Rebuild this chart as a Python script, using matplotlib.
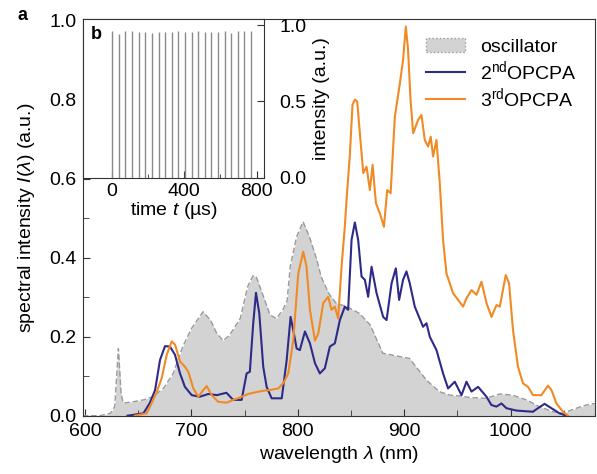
import numpy as np
import matplotlib
matplotlib.use("Agg")
import matplotlib.pyplot as plt
from matplotlib.patches import Patch
from matplotlib.lines import Line2D
from matplotlib.ticker import MultipleLocator, FormatStrFormatter

plt.rcParams['font.family'] = ['Liberation Sans', 'DejaVu Sans']
plt.rcParams['mathtext.fontset'] = 'custom'
plt.rcParams['mathtext.rm'] = 'Liberation Sans'
plt.rcParams['mathtext.it'] = 'Liberation Sans:italic'
plt.rcParams['font.size'] = 14

# oscillator spectrum
osc_wl = [598, 614, 624, 628, 631.5, 634, 636, 645, 655, 664, 674, 683, 692, 700, 711, 718, 724,
          730, 736, 746, 753, 758, 761, 768, 774, 780, 786, 790, 793, 799, 805, 811, 818, 822, 829,
          836, 846, 858, 868, 880, 905, 921, 933, 943, 952, 962, 977, 990, 1002, 1015, 1027, 1040,
          1049, 1062, 1071, 1079]
osc_y = [0, 0, 0.006, 0.023, 0.17, 0.057, 0.032, 0.035, 0.04, 0.048, 0.07, 0.107, 0.175, 0.22,
         0.263, 0.242, 0.208, 0.19, 0.204, 0.246, 0.327, 0.354, 0.352, 0.30, 0.255, 0.246, 0.268,
         0.29, 0.378, 0.453, 0.491, 0.453, 0.394, 0.352, 0.31, 0.285, 0.276, 0.259, 0.23, 0.158,
         0.145, 0.09, 0.061, 0.052, 0.05, 0.046, 0.044, 0.055, 0.052, 0.04, 0.023, 0.01, 0.006,
         0.019, 0.027, 0.031]

# 2nd OPCPA
b_wl = [640, 655, 661, 666, 670.6, 675.3, 680, 684.7, 689.4, 694, 700.4, 708, 716, 724, 733,
        739.4, 747.3, 752, 755, 758.2, 760.8, 763.9, 767.6, 770.8, 775.5, 780, 785, 789.6, 793.3,
        795.8, 799, 802, 806.8, 811.5, 816.2, 820.8, 825.5, 830.2, 834.9, 839.6, 844.3, 847.4,
        850.6, 853.7, 856.8, 860, 863.1, 866.2, 869.4, 874.1, 880.3, 883.5, 888.2, 892.2, 895.3,
        899, 902.2, 905.3, 910, 917.8, 921, 924.1, 930.4, 936.6, 941.3, 947.6, 953.9, 958.6,
        963.3, 969.5, 977.4, 982, 986.7, 991.5, 996.1, 1005.5, 1021, 1025.8, 1032, 1038.4, 1046,
        1052.5]
b_y = [0, 0.006, 0.032, 0.065, 0.141, 0.176, 0.175, 0.154, 0.107, 0.073, 0.052, 0.048, 0.055,
       0.052, 0.058, 0.04, 0.04, 0.107, 0.111, 0.234, 0.311, 0.259, 0.124, 0.073, 0.044, 0.044,
       0.044, 0.14, 0.25, 0.217, 0.17, 0.166, 0.213, 0.183, 0.133, 0.107, 0.12, 0.175, 0.183,
       0.242, 0.276, 0.268, 0.445, 0.489, 0.445, 0.352, 0.344, 0.301, 0.377, 0.31, 0.25, 0.242,
       0.335, 0.373, 0.293, 0.344, 0.365, 0.335, 0.276, 0.225, 0.234, 0.2, 0.166, 0.107, 0.069,
       0.086, 0.052, 0.086, 0.061, 0.073, 0.048, 0.027, 0.023, 0.031, 0.019, 0.013, 0.01, 0.019,
       0.03, 0.019, 0.006, 0]

# 3rd OPCPA
o_wl = [647, 658, 662.8, 667.5, 672.2, 676.9, 681.6, 684.7, 689.4, 694, 697.2, 701.9, 706.6,
        711.3, 714.5, 719.2, 725.4, 733.2, 739.4, 745.7, 753.5, 761.4, 767.6, 773.9, 781.7, 786.4,
        791.1, 795.8, 800.5, 805.2, 808.3, 811.5, 816.2, 819.3, 824, 828.6, 831.8, 834.9, 838,
        841.2, 844.3, 846, 849, 851.5, 853.7, 855.9, 858.4, 861.6, 864.7, 867.8, 870.4, 873.5,
        877.2, 881, 884.1, 887.3, 891.3, 896, 899, 901.6, 903.7, 906, 908.5, 913.2, 916.3, 919.4,
        922.5, 925, 927.2, 930.4, 933.5, 936.6, 939.8, 946, 950.7, 955.4, 958.6, 963.3, 968,
        972.7, 977.4, 982.1, 986.8, 989.9, 995.5, 998.6, 1002.3, 1007, 1011.7, 1016.4, 1021.1,
        1029, 1035.2, 1038.4, 1043.1, 1049.3, 1054]
o_y = [0, 0.006, 0.032, 0.06, 0.095, 0.154, 0.188, 0.18, 0.137, 0.124, 0.111, 0.069, 0.048,
       0.065, 0.075, 0.052, 0.035, 0.033, 0.04, 0.046, 0.055, 0.06, 0.063, 0.065, 0.069, 0.082,
       0.107, 0.19, 0.36, 0.415, 0.377, 0.268, 0.19, 0.208, 0.285, 0.301, 0.268, 0.276, 0.246,
       0.377, 0.48, 0.55, 0.66, 0.787, 0.8, 0.795, 0.715, 0.614, 0.63, 0.571, 0.635, 0.538,
       0.512, 0.478, 0.571, 0.563, 0.757, 0.841, 0.90, 0.985, 0.926, 0.80, 0.715, 0.749, 0.761,
       0.698, 0.681, 0.706, 0.656, 0.698, 0.588, 0.445, 0.36, 0.31, 0.293, 0.276, 0.297, 0.318,
       0.306, 0.339, 0.285, 0.25, 0.28, 0.276, 0.356, 0.335, 0.217, 0.124, 0.082, 0.073, 0.052,
       0.052, 0.076, 0.065, 0.031, 0.01, 0]

# inset: pulse train
pulse_t = [0, 37, 73, 110, 147, 183, 220, 257, 293, 330, 367, 403, 440, 477, 513, 550, 587,
           623, 660, 697, 733, 770]
pulse_h = [0.96, 0.94, 0.96, 0.96, 0.955, 0.955, 0.945, 0.955, 0.955, 0.955, 0.96, 0.955, 0.955,
           0.96, 0.955, 0.955, 0.955, 0.96, 0.945, 0.96, 0.96, 0.96]

c_fill = '#d3d3d3'
c_edge = '#9a9a9a'
c_blue = '#2e2a88'
c_orange = '#f08a24'
c_frame = '#333333'

fig = plt.figure(figsize=(5.97, 4.74), dpi=100)
ax = fig.add_axes([0.1395, 0.123, 0.8565, 0.837])

ax.fill_between(osc_wl, osc_y, 0, color=c_fill, lw=0, zorder=1)
ax.plot(osc_wl, osc_y, color=c_edge, lw=1.0, ls=(0, (4, 2)), zorder=2)
ax.plot(b_wl, b_y, color=c_blue, lw=1.5, zorder=3)
ax.plot(o_wl, o_y, color=c_orange, lw=1.5, zorder=4)

ax.set_xlim(598.5, 1079)
ax.set_ylim(0, 1.004)
ax.xaxis.set_major_locator(MultipleLocator(100))
ax.xaxis.set_minor_locator(MultipleLocator(50))
ax.yaxis.set_major_locator(MultipleLocator(0.2))
ax.yaxis.set_minor_locator(MultipleLocator(0.1))
ax.yaxis.set_major_formatter(FormatStrFormatter('%.1f'))
ax.tick_params(which='both', direction='in', color=c_frame, top=False, right=False, pad=5)
ax.tick_params(which='major', length=5)
ax.tick_params(which='minor', length=4)
for s in ax.spines.values():
    s.set_color(c_frame)
ax.set_xlabel(r'wavelength $\mathit{\lambda}$ (nm)', labelpad=3)
ax.set_ylabel(r'spectral intensity $\mathit{I}(\mathit{\lambda})$ (a.u.)', labelpad=9)

handles = [Patch(facecolor=c_fill, edgecolor=c_edge, ls=':', lw=1),
           Line2D([], [], color=c_blue, lw=1.5),
           Line2D([], [], color=c_orange, lw=1.5)]
labels = ['oscillator', r'2$^{\mathrm{nd}}$OPCPA', r'3$^{\mathrm{rd}}$OPCPA']
ax.legend(handles, labels, loc='upper right', bbox_to_anchor=(1.0, 0.995), frameon=False,
          handlelength=2.0, handletextpad=0.8, labelspacing=0.15, fontsize=14)

fig.text(0.03, 0.968, 'a', fontweight='bold', fontsize=13, va='center')

# inset b
ins = ax.inset_axes([0, 0.6, 0.353, 0.4])
ins.set_zorder(5)
ins.vlines(pulse_t, 0, pulse_h, color='#8a8a8a', lw=1.0)
ins.set_xlim(-160, 840)
ins.set_ylim(0, 1.04)
ins.xaxis.set_major_locator(MultipleLocator(400))
ins.xaxis.set_minor_locator(MultipleLocator(200))
ins.yaxis.set_major_locator(MultipleLocator(0.5))
ins.yaxis.set_major_formatter(FormatStrFormatter('%.1f'))
ins.yaxis.tick_right()
ins.yaxis.set_label_position('right')
ins.tick_params(which='both', direction='in', color=c_frame, left=False, top=False, pad=4)
ins.tick_params(axis='y', pad=11)
ins.tick_params(which='major', length=5)
ins.tick_params(which='minor', length=3)
for s in ins.spines.values():
    s.set_color(c_frame)
ins.set_xlabel(r'time $\mathit{t}$ (µs)', labelpad=0)
ins.set_ylabel('intensity (a.u.)', labelpad=5)
ins.text(0.04, 0.9, 'b', transform=ins.transAxes, fontweight='bold', fontsize=13, va='center')

fig.savefig('out.png', dpi=100)
